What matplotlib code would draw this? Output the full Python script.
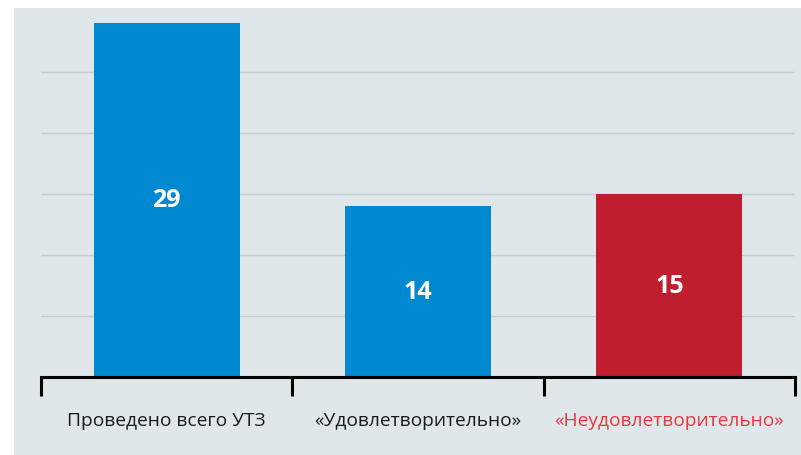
import matplotlib.pyplot as plt
from matplotlib.patches import Rectangle
from matplotlib.transforms import blended_transform_factory

# Data
categories = ['Проведено всего УТЗ', '«Удовлетворительно»', '«Неудовлетворительно»']
values = [29, 14, 15]
bar_colors = ['#0089d0', '#0089d0', '#be1e2d']
label_colors = ['#1a1a1a', '#1a1a1a', '#e8363f']

plt.rcParams['font.family'] = ['Open Sans', 'DejaVu Sans']

fig = plt.figure(figsize=(8.01, 4.56), dpi=100)
fig.patch.set_facecolor('white')
# light background panel (behind the axes)
fig.patches.append(Rectangle((14 / 801, 0), 1 - 14 / 801, 1 - 9 / 456,
                             transform=fig.transFigure, facecolor='#dfe7ea',
                             edgecolor='none', zorder=-10))

ax = fig.add_axes([41 / 801, 78 / 456, 754 / 801, 366.3 / 456])
ax.set_facecolor('none')
ax.set_zorder(1)

x = range(len(values))
ax.bar(x, values, width=0.58, color=bar_colors, zorder=2)

for y in [5, 10, 15, 20, 25]:
    ax.axhline(y, color='#c6cdd1', lw=1, zorder=1)

for i, v in enumerate(values):
    ax.text(i, v / 2, str(v), ha='center', va='center', color='white',
            fontsize=18, fontweight='bold', zorder=3)

ax.set_xlim(-0.5, 2.5)
ax.set_ylim(0, 30)

for s in ['top', 'right', 'left']:
    ax.spines[s].set_visible(False)
ax.spines['bottom'].set_linewidth(2.2)
ax.spines['bottom'].set_color('black')
ax.spines['bottom'].set_capstyle('projecting')

ax.set_yticks([])
ax.set_xticks([-0.5, 0.5, 1.5, 2.5])
ax.set_xticklabels([])
ax.tick_params(axis='x', direction='out', length=13.5, width=2.2, color='black')

trans = blended_transform_factory(ax.transData, ax.transAxes)
for i, (c, col) in enumerate(zip(categories, label_colors)):
    ax.text(i, -0.118, c, ha='center', va='center', color=col,
            fontsize=13.8, transform=trans)

fig.savefig('out.png', dpi=100)
